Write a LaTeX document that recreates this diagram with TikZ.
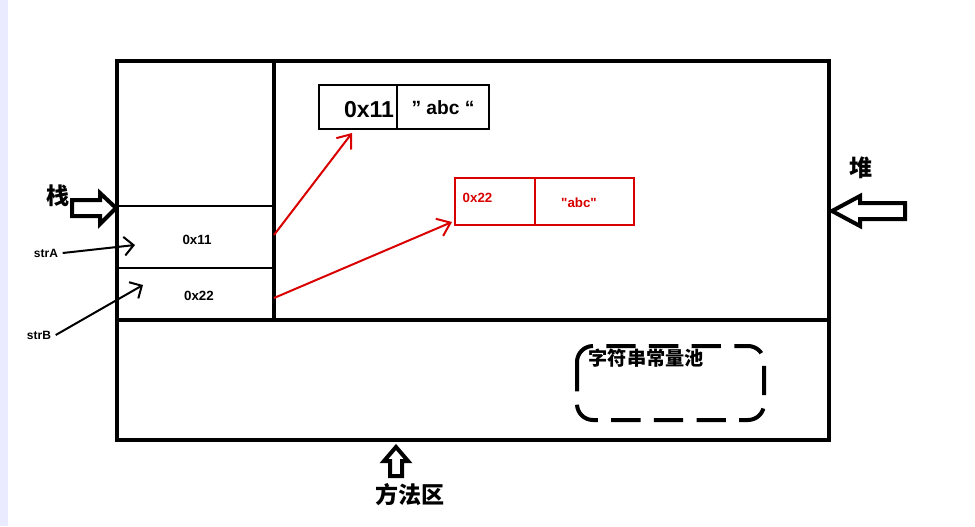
\documentclass[tikz,border=0pt]{standalone}
\usepackage{fontspec}
\setmainfont{Liberation Sans}
\newfontfamily\rawf{Liberation Sans}
\newfontfamily\cjk{Noto Sans CJK SC}
\usetikzlibrary{arrows.meta}
\begin{document}
\begin{tikzpicture}[x=0.75pt,y=-0.75pt,
  frame/.style={line width=3pt,black},
  thin/.style={line width=1.5pt,black},
  redl/.style={line width=1.5pt,red!85!black},
  lab/.style={font=\bfseries\normalsize},
  big/.style={font=\cjk\bfseries\LARGE},
  blk/.style={line width=3pt,black,line join=miter},
  ptr/.style={line width=1.5pt,-{Straight Barb[length=7pt,width=14pt]}}]
\useasboundingbox[fill=white] (0,0) rectangle (975,526);
\fill[blue!8] (0,0) rectangle (8,526);
% main frame
\draw[frame] (117,61) rectangle (829,440);
\draw[frame] (274,61) -- (274,320);
\draw[frame] (117,320) -- (829,320);
\draw[thin] (117,206) -- (274,206);
\draw[thin] (117,268) -- (274,268);
\node[lab] (v1) at (197,240) {0x11};
\node[lab] (v2) at (199,296) {0x22};
\coordinate (p1) at (274,235);
\coordinate (p2) at (274,298);
% black heap box
\draw[line width=0.8pt] (319,85) rectangle (489,129);
\draw[line width=0.8pt] (397,85) -- (397,129);
\node[font=\bfseries\LARGE] (b1) at (369,110) {0x11};
\node[font=\bfseries\Large] (b2) at (443,108) {” abc “};
\coordinate (t1) at (352,133);
% red box
\draw[redl] (455,178) rectangle (634,225);
\draw[redl] (535,178) -- (535,225);
\node[lab,red!85!black,anchor=west] (r1) at (458,198) {0x22};
\node[font=\rawf\bfseries\normalsize,red!85!black] (r2) at (579,203) {"abc"};
\coordinate (t2) at (452,222);
\draw[redl,-{Straight Barb[length=9pt,width=14pt]}] (p1) -- (t1);
\draw[redl,-{Straight Barb[length=9pt,width=14pt]}] (p2) -- (t2);
% pointers
\node[font=\bfseries\small] (sa) at (46,253) {strA};
\node[font=\bfseries\small] (sb) at (39,335) {strB};
\coordinate (sa2) at (135,245);
\coordinate (sb2) at (143,285);
\draw[ptr] (sa.east) -- (sa2);
\draw[ptr] (sb.east) -- (sb2);
% block arrows
\draw[blk] (72,200) -- (100,200) -- (100,193) -- (116,208) -- (100,224) -- (100,216) -- (72,216) -- cycle;
\node[big] (zhan) at (58,196) {栈};
\draw[blk] (905,203) -- (860,203) -- (860,196) -- (832,211) -- (860,226) -- (860,219) -- (905,219) -- cycle;
\node[big] (dui) at (861,168) {堆};
\draw[blk] (390,476) -- (390,461) -- (384,461) -- (396,447) -- (408,461) -- (402,461) -- (402,476) -- cycle;
\node[big] (ff) at (410,495) {方法区};
% pool
\draw[line width=3pt,dash pattern=on 22pt off 10pt,rounded corners=12pt] (577,346) rectangle (764,420);
\node[font=\cjk\bfseries\Large,anchor=west] (pool) at (584,358) {字符串常量池};
\end{tikzpicture}
\end{document}
